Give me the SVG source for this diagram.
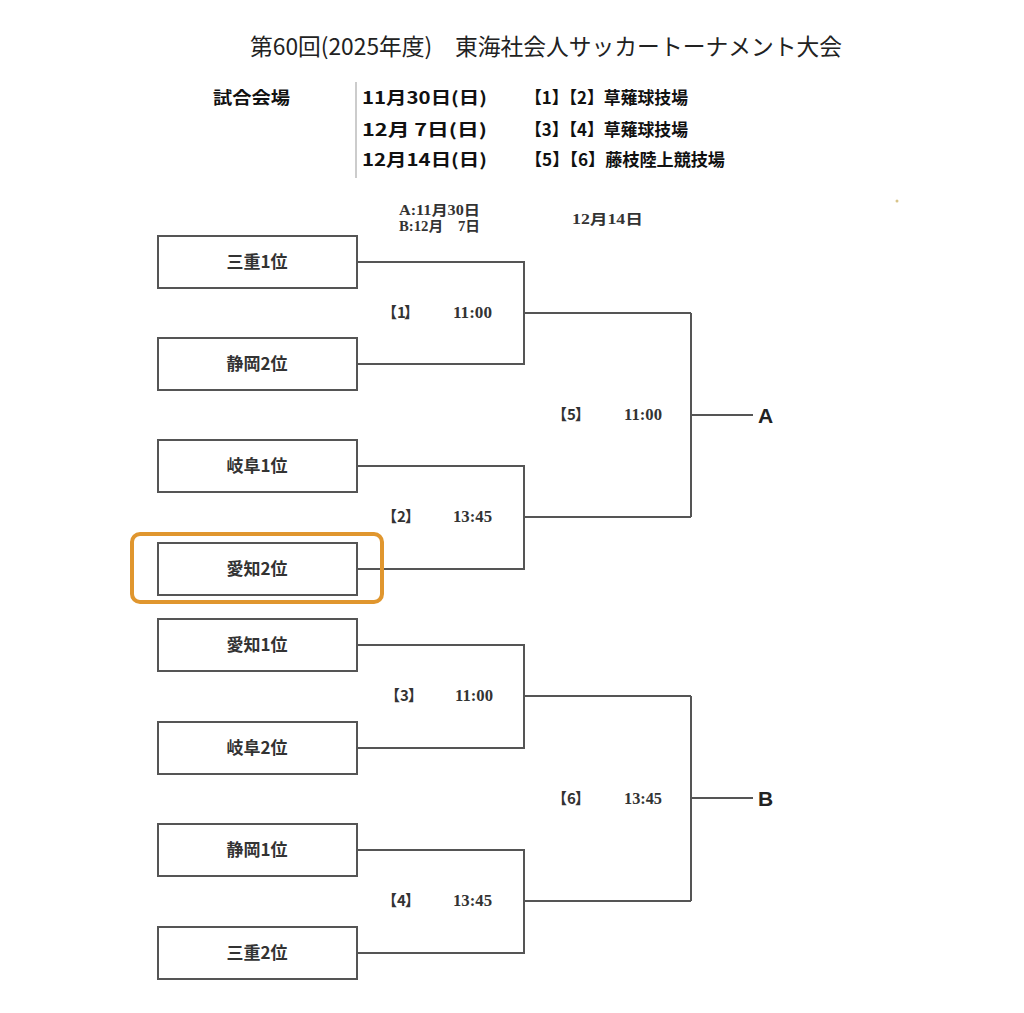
<svg xmlns="http://www.w3.org/2000/svg" width="1024" height="1013" viewBox="0 0 1024 1013">
<style>
.box{fill:#fff;stroke:#555;stroke-width:2}
.team{font-family:"Noto Sans CJK JP","Liberation Serif",serif;font-size:17px;font-weight:bold;fill:#333;text-anchor:middle}
.ln{fill:none;stroke:#555;stroke-width:2}
.hd{font-family:"Noto Sans CJK JP","Liberation Sans",sans-serif;font-size:17px;font-weight:bold;fill:#111}
.mno{font-family:"Noto Sans CJK JP","Liberation Serif",sans-serif;font-size:15px;font-weight:bold;fill:#333}
.tm{font-family:"Liberation Serif","Noto Sans CJK JP",serif;font-size:16px;font-weight:bold;fill:#333}
.dt{font-family:"Liberation Serif","Noto Sans CJK JP",serif;font-size:14px;font-weight:bold;fill:#333}
.ab{font-family:"Liberation Sans",Arial,sans-serif;font-size:21px;font-weight:bold;fill:#222}
</style>
<rect width="1024" height="1013" fill="#fff"/>
<g id="title">
<text x="250" y="55" font-family="'Noto Sans CJK JP',sans-serif" font-size="23" fill="#222" textLength="592" lengthAdjust="spacingAndGlyphs">第60回(2025年度)　東海社会人サッカートーナメント大会</text>
</g>
<g id="venues">
<text class="hd" x="213" y="104" textLength="77" lengthAdjust="spacingAndGlyphs">試合会場</text>
<line x1="356" y1="82" x2="356" y2="178" stroke="#bbb" stroke-width="1.5"/>
<text class="hd" x="362" y="104" textLength="125" lengthAdjust="spacingAndGlyphs">11月30日(日)</text>
<text class="hd" x="362" y="136" textLength="125" lengthAdjust="spacingAndGlyphs">12月 7日(日)</text>
<text class="hd" x="362" y="166" textLength="125" lengthAdjust="spacingAndGlyphs">12月14日(日)</text>
<text class="hd" x="525" y="104" textLength="163" lengthAdjust="spacingAndGlyphs">【1】【2】草薙球技場</text>
<text class="hd" x="525" y="136" textLength="163" lengthAdjust="spacingAndGlyphs">【3】【4】草薙球技場</text>
<text class="hd" x="525" y="166" textLength="200" lengthAdjust="spacingAndGlyphs">【5】【6】藤枝陸上競技場</text>
</g>
<g id="round-dates">
<text class="dt" x="399" y="215" textLength="81" lengthAdjust="spacingAndGlyphs">A:11月30日</text>
<text class="dt" x="399" y="231" textLength="81" lengthAdjust="spacingAndGlyphs">B:12月　7日</text>
<text class="dt" x="572" y="224" font-size="15" textLength="71" lengthAdjust="spacingAndGlyphs">12月14日</text>
</g>
<g id="connectors">
<path class="ln" d="M357 262H524V364H357M524 313H691"/>
<path class="ln" d="M357 466H524V569H357M524 517H691"/>
<path class="ln" d="M691 313V517M691 415H753"/>
<path class="ln" d="M357 645H524V748H357M524 696H691"/>
<path class="ln" d="M357 850H524V953H357M524 901H691"/>
<path class="ln" d="M691 696V901M691 798H753"/>
</g>
<g id="team-1"><rect class="box" x="158" y="236" width="199" height="52"/><text class="team" x="257" y="268">三重1位</text></g>
<g id="team-2"><rect class="box" x="158" y="338" width="199" height="52"/><text class="team" x="257" y="370">静岡2位</text></g>
<g id="team-3"><rect class="box" x="158" y="440" width="199" height="52"/><text class="team" x="257" y="472">岐阜1位</text></g>
<g id="team-4"><rect class="box" x="158" y="543" width="199" height="52"/><text class="team" x="257" y="575">愛知2位</text></g>
<g id="team-5"><rect class="box" x="158" y="619" width="199" height="52"/><text class="team" x="257" y="651">愛知1位</text></g>
<g id="team-6"><rect class="box" x="158" y="722" width="199" height="52"/><text class="team" x="257" y="754">岐阜2位</text></g>
<g id="team-7"><rect class="box" x="158" y="824" width="199" height="52"/><text class="team" x="257" y="856">静岡1位</text></g>
<g id="team-8"><rect class="box" x="158" y="927" width="199" height="52"/><text class="team" x="257" y="959">三重2位</text></g>
<g id="highlight"><rect x="132" y="534" width="250" height="68" rx="8" fill="none" stroke="#E0962E" stroke-width="4"/></g>
<g id="match-1"><text class="mno" y="318"><tspan x="382">【</tspan><tspan x="397">1</tspan><tspan x="404">】</tspan></text><text class="tm" x="453" y="318" textLength="39" lengthAdjust="spacingAndGlyphs">11:00</text></g>
<g id="match-2"><text class="mno" y="522"><tspan x="382">【</tspan><tspan x="397">2</tspan><tspan x="405">】</tspan></text><text class="tm" x="453" y="522" textLength="39" lengthAdjust="spacingAndGlyphs">13:45</text></g>
<g id="match-3"><text class="mno" y="701"><tspan x="385">【</tspan><tspan x="400">3</tspan><tspan x="408">】</tspan></text><text class="tm" x="455" y="701" textLength="38" lengthAdjust="spacingAndGlyphs">11:00</text></g>
<g id="match-4"><text class="mno" y="906"><tspan x="382">【</tspan><tspan x="397">4</tspan><tspan x="405">】</tspan></text><text class="tm" x="453" y="906" textLength="39" lengthAdjust="spacingAndGlyphs">13:45</text></g>
<g id="match-5"><text class="mno" y="420"><tspan x="552">【</tspan><tspan x="567">5</tspan><tspan x="575">】</tspan></text><text class="tm" x="624" y="420" textLength="38" lengthAdjust="spacingAndGlyphs">11:00</text></g>
<g id="match-6"><text class="mno" y="804"><tspan x="552">【</tspan><tspan x="567">6</tspan><tspan x="575">】</tspan></text><text class="tm" x="624" y="804" textLength="38" lengthAdjust="spacingAndGlyphs">13:45</text></g>
<g id="result-A"><text class="ab" x="758" y="423">A</text></g>
<g id="result-B"><text class="ab" x="758" y="806">B</text></g>
<circle cx="897" cy="201" r="1.5" fill="#d8c48a"/>
</svg>
